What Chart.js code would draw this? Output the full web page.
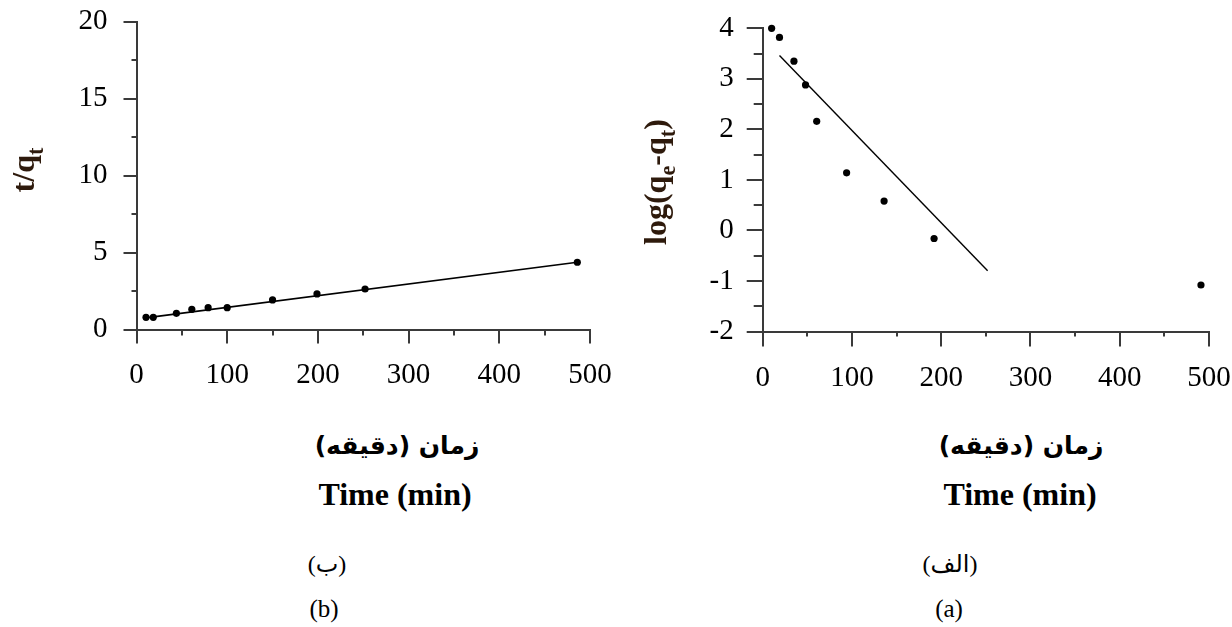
<!DOCTYPE html>
<html>
<head>
<meta charset="utf-8">
<script src="https://cdn.jsdelivr.net/npm/chart.js@4.4.1/dist/chart.umd.min.js"></script>
<style>
html,body{margin:0;padding:0;background:#fff;}
#page{position:relative;width:1232px;height:627px;overflow:hidden;background:#fff;}
.box{position:absolute;top:0;width:616px;height:400px;}
.cap{position:absolute;text-align:center;white-space:nowrap;color:#000;}
.fa{font-family:"DejaVu Sans",sans-serif;font-weight:bold;direction:rtl;font-size:25px;line-height:30px;}
.en{font-family:"Liberation Serif",serif;font-weight:bold;font-size:32px;line-height:32px;}
.lab{font-family:"Liberation Serif","DejaVu Sans",serif;}
</style>
</head>
<body>
<div id="page">
  <div class="box" style="left:0"><canvas id="chartB" width="616" height="400"></canvas></div>
  <div class="box" style="left:616px"><canvas id="chartA" width="616" height="400"></canvas></div>

  <div class="cap fa" style="left:297px;width:200px;top:431px">زمان (دقیقه)</div>
  <div class="cap en" style="left:295px;width:200px;top:478px">Time (min)</div>
  <div class="cap fa" style="left:921px;width:200px;top:431px">زمان (دقیقه)</div>
  <div class="cap en" style="left:920px;width:200px;top:478px">Time (min)</div>

  <div class="cap lab" style="left:277px;width:100px;top:551px;font-size:24px;line-height:26px">(ب)</div>
  <div class="cap lab" style="left:274px;width:100px;top:596px;font-size:25px;line-height:25px">(b)</div>
  <div class="cap lab" style="left:900px;width:100px;top:551px;font-size:24px;line-height:26px">(الف)</div>
  <div class="cap lab" style="left:899px;width:100px;top:596px;font-size:25px;line-height:25px">(a)</div>
</div>

<script>
// ---- (b) pseudo-second-order: t/qt vs time ----
const timeB   = [10.5, 18.5, 44, 61, 79, 100, 150, 199, 252, 486];
const tqB     = [0.79, 0.79, 1.05, 1.31, 1.42, 1.42, 1.92, 2.31, 2.63, 4.37];
const fitTimeB = [10, 486];
const fitTqB   = [0.75, 4.37];
const xRangeB = [0, 500];
const yRangeB = [0, 20];
const yStepB = 5;

// ---- (a) pseudo-first-order: log(qe-qt) vs time ----
const timeA   = [10, 18.8, 35, 48, 60.5, 94, 136, 192, 491];
const logA    = [4.0, 3.82, 3.35, 2.88, 2.16, 1.14, 0.58, -0.16, -1.08];
const fitTimeA = [18.8, 252];
const fitLogA  = [3.46, -0.8];
const xRangeA = [0, 500];
const yRangeA = [-2, 4];
const yStepA = 1;

const xStep = 100;
const AXIS = '#3a3a3a';
const TITLE = '#2e1a0c';
const TICKFONT = {family: 'Liberation Serif', size: 29};

function pts(xs, ys) { return xs.map((x, i) => ({x: x, y: ys[i]})); }

function minorValues(min, max, step) {
  const out = [];
  for (let v = min + step / 2; v < max; v += step) out.push(v);
  return out;
}

const decor = {
  id: 'decor',
  afterDraw(chart, args, o) {
    const ctx = chart.ctx;
    const xs = chart.scales.x, ys = chart.scales.y;
    ctx.save();
    ctx.strokeStyle = AXIS;
    ctx.lineWidth = 2;
    minorValues(xs.min, xs.max, o.xStep).forEach(v => {
      const px = Math.round(xs.getPixelForValue(v));
      ctx.beginPath(); ctx.moveTo(px, xs.top); ctx.lineTo(px, xs.top + o.xMinorLen); ctx.stroke();
    });
    minorValues(ys.min, ys.max, o.yStep).forEach(v => {
      const py = Math.round(ys.getPixelForValue(v));
      ctx.beginPath(); ctx.moveTo(ys.right, py); ctx.lineTo(ys.right - o.yMinorLen, py); ctx.stroke();
    });
    // rotated y-axis title with subscripts
    ctx.translate(o.titleX, o.titleY);
    ctx.rotate(-Math.PI / 2);
    const size = o.titleSize;
    let total = 0;
    o.title.forEach(p => {
      ctx.font = 'bold ' + (p.sub ? size * 0.7 : size) + 'px "Liberation Serif"';
      p.w = ctx.measureText(p.t).width;
      total += p.w;
    });
    let x = -total / 2;
    ctx.fillStyle = TITLE;
    ctx.textBaseline = 'alphabetic';
    o.title.forEach(p => {
      ctx.font = 'bold ' + (p.sub ? size * 0.7 : size) + 'px "Liberation Serif"';
      ctx.fillText(p.t, x, p.sub ? size * 0.28 : 0);
      x += p.w;
    });
    ctx.restore();
  }
};

function makeChart(id, d) {
  return new Chart(document.getElementById(id), {
    type: 'scatter',
    data: {
      datasets: [
        {data: pts(d.fitX, d.fitY), showLine: true, borderColor: '#000', borderWidth: d.lineW,
         pointRadius: 0, fill: false, order: 2, clip: false},
        {data: pts(d.x, d.y), pointRadius: 3.6, pointBackgroundColor: '#000',
         pointBorderWidth: 0, showLine: false, order: 1, clip: false}
      ]
    },
    options: {
      responsive: false,
      animation: false,
      events: [],
      layout: {autoPadding: false, padding: {left: 0, top: d.top, right: d.right, bottom: 0}},
      plugins: {legend: {display: false}, tooltip: {enabled: false}, decor: d.decor},
      scales: {
        x: {
          type: 'linear', min: d.xr[0], max: d.xr[1],
          ticks: {stepSize: xStep, font: TICKFONT, color: '#000', padding: 14, maxRotation: 0},
          grid: {drawOnChartArea: false, drawTicks: true, tickLength: d.xTick, color: AXIS, lineWidth: 2},
          border: {display: true, color: AXIS, width: 2},
          afterFit: s => { s.height = d.xH; s.paddingLeft = 0; s.paddingRight = 0; }
        },
        y: {
          type: 'linear', min: d.yr[0], max: d.yr[1],
          ticks: {stepSize: d.yStep, font: TICKFONT, color: '#000', padding: d.yPad},
          grid: {drawOnChartArea: false, drawTicks: true, tickLength: d.yTick, color: AXIS, lineWidth: 2},
          border: {display: true, color: AXIS, width: 2},
          afterFit: s => { s.width = d.yW; s.paddingTop = 0; s.paddingBottom = 0; }
        }
      }
    },
    plugins: [decor]
  });
}

makeChart('chartB', {
  x: timeB, y: tqB, fitX: fitTimeB, fitY: fitTqB, lineW: 1.7,
  xr: xRangeB, yr: yRangeB, yStep: yStepB,
  top: 21.7, right: 26, xH: 70.5, yW: 136.5, xTick: 14, yTick: 13, yPad: 16,
  decor: {xStep: xStep, yStep: yStepB, xMinorLen: 6, yMinorLen: 5,
          titleX: 34, titleY: 170, titleSize: 32,
          title: [{t: 't/q'}, {t: 't', sub: true}]}
});

makeChart('chartA', {
  x: timeA, y: logA, fitX: fitTimeA, fitY: fitLogA, lineW: 1.4,
  xr: xRangeA, yr: yRangeA, yStep: yStepA,
  top: 28.3, right: 23, xH: 68.5, yW: 146.7, xTick: 15, yTick: 16, yPad: 13,
  decor: {xStep: xStep, yStep: yStepA, xMinorLen: 5, yMinorLen: 9,
          titleX: 50, titleY: 182, titleSize: 32,
          title: [{t: 'log(q'}, {t: 'e', sub: true}, {t: '-q'}, {t: 't', sub: true}, {t: ')'}]}
});
</script>
</body>
</html>
